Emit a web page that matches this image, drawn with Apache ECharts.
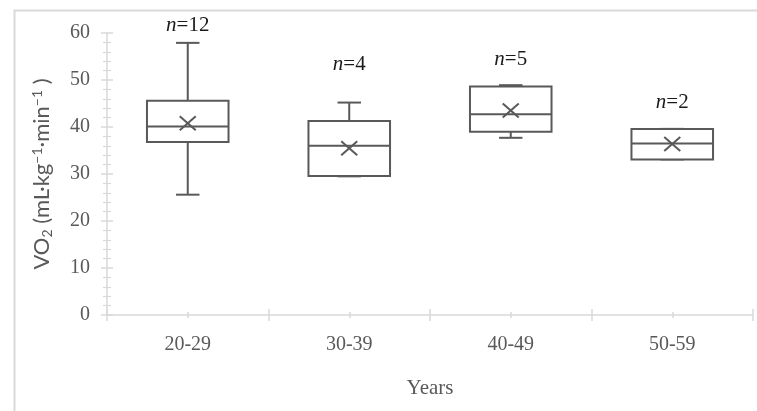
<!DOCTYPE html>
<html><head><meta charset="utf-8">
<script src="https://cdn.jsdelivr.net/npm/echarts@6/dist/echarts.min.js"></script>
<style>html,body{margin:0;padding:0;background:#fff}#c{width:757px;height:411px}</style>
</head><body><div id="c"></div>
<script>
const categories = ['20-29', '30-39', '40-49', '50-59'];
const whiskerLow = [25.6, 29.5, 37.7, 33.1];
const q1 = [36.8, 29.6, 39.0, 33.1];
const median = [40.1, 36.0, 42.7, 36.5];
const q3 = [45.6, 41.3, 48.6, 39.6];
const whiskerHigh = [57.9, 45.2, 48.9, 39.6];
const mean = [40.8, 35.5, 43.5, 36.4];
const sampleSizes = [12, 4, 5, 2];
const labelY = [61.6, 53.2, 54.3, 45.2];
const yMin = 0, yMax = 60, yInterval = 10;

const AX = '#d9d9d9', INK = '#595959';
const gridPos = { left: 107, right: 4, top: 33, bottom: 96 };
const grids = [0, 1, 2, 3].map(() => Object.assign({}, gridPos));

function xAx(gi, opts) {
  return Object.assign({
    type: 'category', data: categories, gridIndex: gi, boundaryGap: true,
    axisLine: { show: false }, axisLabel: { show: false }, splitLine: { show: false },
    axisTick: { show: false }
  }, opts);
}
function yAx(gi, opts) {
  return Object.assign({
    type: 'value', gridIndex: gi, min: yMin, max: yMax, interval: yInterval,
    axisLine: { show: false }, axisLabel: { show: false }, splitLine: { show: false },
    axisTick: { show: false }, minorTick: { show: false }
  }, opts);
}

const xAxes = [
  xAx(0, {
    axisLine: { show: true, lineStyle: { color: AX, width: 1.5 } },
    axisTick: { show: true, alignWithLabel: false, interval: 0, length: 6, lineStyle: { color: AX, width: 1.5 } },
    axisLabel: { show: true, margin: 20, color: INK, fontFamily: 'Liberation Serif', fontSize: 20 },
    name: 'Years', nameLocation: 'middle', nameGap: 63,
    nameTextStyle: { color: INK, fontFamily: 'Liberation Serif', fontSize: 21 }
  }),
  xAx(1, { axisTick: { show: true, inside: true, alignWithLabel: false, interval: 0, length: 6, lineStyle: { color: AX, width: 1.5 } } }),
  xAx(2, { axisTick: { show: true, alignWithLabel: true, interval: 0, length: 3, lineStyle: { color: AX, width: 1.5 } } }),
  xAx(3, { axisTick: { show: true, inside: true, alignWithLabel: true, interval: 0, length: 3, lineStyle: { color: AX, width: 1.5 } } })
];

const yAxes = [
  yAx(0, {
    axisLine: { show: true, lineStyle: { color: AX, width: 1.5 } },
    axisTick: { show: true, length: 6, lineStyle: { color: AX, width: 1.5 } },
    minorTick: { show: true, splitNumber: 5, length: 4, lineStyle: { color: AX, width: 1.2 } },
    axisLabel: { show: true, margin: 17, color: INK, fontFamily: 'Liberation Serif', fontSize: 20 },
    name: '{a|VO}{sub|2}{a| (mL·kg}{sup|−1}{a|·min}{sup|−1}{a| )}',
    nameLocation: 'middle', nameGap: 53, nameRotate: 90,
    nameTextStyle: {
      color: INK,
      rich: {
        a: { fontFamily: 'Lato', fontSize: 22, color: INK, lineHeight: 24, verticalAlign: 'middle' },
        sub: { fontFamily: 'Lato', fontSize: 14, color: INK, lineHeight: 24, verticalAlign: 'bottom' },
        sup: { fontFamily: 'Lato', fontSize: 14, color: INK, lineHeight: 24, verticalAlign: 'top' }
      }
    }
  }),
  yAx(1, {
    axisTick: { show: true, inside: true, length: 6, lineStyle: { color: AX, width: 1.5 } },
    minorTick: { show: true, splitNumber: 5, length: 4, lineStyle: { color: AX, width: 1.2 } }
  }),
  yAx(2, {}),
  yAx(3, {})
];

const boxData = categories.map((c, i) => [i, whiskerLow[i], q1[i], median[i], q3[i], whiskerHigh[i], mean[i], labelY[i]]);

function renderItem(params, api) {
  const i = api.value(0);
  const xc = api.coord([i, 0])[0];
  const catW = api.size([1, 0])[0];
  const bw = catW * 0.505, cw = catW * 0.145;
  const y = k => api.coord([i, api.value(k)])[1];
  const yLow = y(1), yQ1 = y(2), yMed = y(3), yQ3 = y(4), yHigh = y(5), yMean = y(6), yLab = y(7);
  const st = { stroke: INK, lineWidth: 2, fill: null };
  const L = (x1, y1, x2, y2) => ({ type: 'line', shape: { x1, y1, x2, y2 }, style: st });
  return {
    type: 'group',
    children: [
      L(xc, yQ3, xc, yHigh), L(xc - cw / 2, yHigh, xc + cw / 2, yHigh),
      L(xc, yQ1, xc, yLow), L(xc - cw / 2, yLow, xc + cw / 2, yLow),
      { type: 'rect', shape: { x: xc - bw / 2, y: yQ3, width: bw, height: yQ1 - yQ3 }, style: { fill: '#fff', stroke: INK, lineWidth: 2 } },
      L(xc - bw / 2, yMed, xc + bw / 2, yMed),
      L(xc - 8, yMean - 7, xc + 8, yMean + 7), L(xc - 8, yMean + 7, xc + 8, yMean - 7),
      {
        type: 'text', x: xc, y: yLab,
        style: {
          text: '{i|n}{r|=' + sampleSizes[params.dataIndex] + '}',
          align: 'center', verticalAlign: 'middle',
          rich: {
            i: { fontFamily: 'Liberation Serif', fontStyle: 'italic', fontSize: 21, fill: '#1a1a1a' },
            r: { fontFamily: 'Liberation Serif', fontSize: 21, fill: '#1a1a1a' }
          }
        }
      }
    ]
  };
}

const chart = echarts.init(document.getElementById('c'), null, { renderer: 'canvas' });
chart.setOption({
  animation: false,
  backgroundColor: '#fff',
  grid: grids,
  xAxis: xAxes,
  yAxis: yAxes,
  graphic: [{
    type: 'rect', left: 12, top: 8, z: -10,
    shape: { width: 800, height: 450 },
    style: { fill: null, stroke: '#d9d9d9', lineWidth: 2 }
  }],
  series: [{
    type: 'custom', xAxisIndex: 0, yAxisIndex: 0, clip: false,
    renderItem: renderItem,
    encode: { x: 0, y: [1, 2, 3, 4, 5, 6, 7] },
    data: boxData
  }]
});
</script></body></html>
